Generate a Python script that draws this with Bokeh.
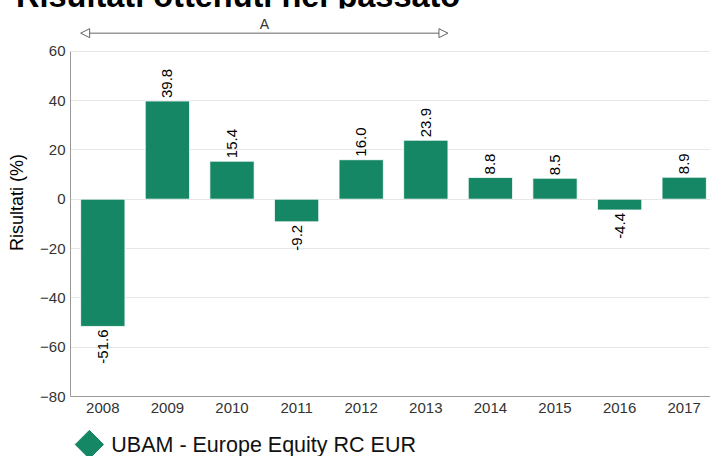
from bokeh.plotting import figure
from bokeh.models import (Range1d, FixedTicker, ColumnDataSource, Arrow, NormalHead, Div)
from bokeh.layouts import column
from bokeh.core.properties import value
from bokeh.embed import file_html
from bokeh.resources import INLINE
import math

# ---- data ----
years = ["2008", "2009", "2010", "2011", "2012", "2013", "2014", "2015", "2016", "2017"]
returns = [-51.6, 39.8, 15.4, -9.2, 16.0, 23.9, 8.8, 8.5, -4.4, 8.9]
y_ticks = [-80, -60, -40, -20, 0, 20, 40, 60]
series_name = "UBAM - Europe Equity RC EUR"
title_text = "Risultati ottenuti nel passato"
y_label = "Risultati (%)"
period_label = "A"
period_start = "2008"
period_end = "2013"

FONT = "Liberation Sans"
GREEN = "#168764"
BAR_W = 0.686

idx = list(range(len(years)))
pos_x = [i for i, v in zip(idx, returns) if v >= 0]
pos_v = [v for v in returns if v >= 0]
neg_x = [i for i, v in zip(idx, returns) if v < 0]
neg_v = [v for v in returns if v < 0]

src = ColumnDataSource(dict(x=idx, v=returns))
pos_src = ColumnDataSource(dict(x=pos_x, v=pos_v, t=["%.1f" % v for v in pos_v]))
neg_src = ColumnDataSource(dict(x=neg_x, v=neg_v, t=["%.1f" % v for v in neg_v]))

p = figure(frame_width=640, frame_height=388,
           x_range=Range1d(-0.5, 9.407), y_range=Range1d(-80, 77.3),
           output_backend="svg", toolbar_location=None,
           min_border_left=55, min_border_right=0, min_border_top=0, min_border_bottom=28,
           margin=(0, 0, 0, 4))
p.outline_line_color = None
p.background_fill_color = "white"

p.vbar(x="x", top="v", bottom=0, width=BAR_W, source=src,
       fill_color=GREEN, line_color="white", line_width=1, line_alpha=0.8)

p.text(x="x", y="v", text="t", source=pos_src, angle=math.pi / 2,
       text_align="left", text_baseline="middle", y_offset=-3,
       text_font=value(FONT), text_font_size="15px", text_color="#000000")
p.text(x="x", y="v", text="t", source=neg_src, angle=math.pi / 2,
       text_align="right", text_baseline="middle", y_offset=3,
       text_font=value(FONT), text_font_size="15px", text_color="#000000")

# period annotation
i0 = years.index(period_start)
i1 = years.index(period_end)
ARROW_Y = 67.3
head_kw = dict(size=9, fill_color="white", line_color="#666666", line_width=1)
p.add_layout(Arrow(start=NormalHead(**head_kw), end=NormalHead(**head_kw),
                   x_start=i0 - BAR_W / 2, x_end=i1 + BAR_W / 2,
                   y_start=ARROW_Y, y_end=ARROW_Y,
                   line_color="#666666", line_width=1))
p.text(x=[(i0 + i1) / 2], y=[71.2], text=[period_label],
       text_align="center", text_baseline="middle",
       text_font=value(FONT), text_font_size="14px", text_color="#333333")

# axes
p.xaxis.ticker = FixedTicker(ticks=idx)
p.xaxis.major_label_overrides = {i: y for i, y in zip(idx, years)}
p.xaxis.major_tick_out = 0
p.xaxis.major_tick_in = 0
p.xaxis.minor_tick_out = 0
p.xaxis.minor_tick_in = 0
p.xaxis.major_label_standoff = 6
p.xaxis.axis_line_color = "#999999"

p.yaxis.ticker = FixedTicker(ticks=y_ticks)
p.yaxis.bounds = (y_ticks[0], y_ticks[-1])
p.yaxis.major_tick_out = 0
p.yaxis.major_tick_in = 0
p.yaxis.minor_tick_out = 0
p.yaxis.minor_tick_in = 0
p.yaxis.major_label_standoff = 5
p.yaxis.axis_line_color = "#999999"
p.yaxis.axis_label = y_label
p.yaxis.axis_label_text_font = FONT
p.yaxis.axis_label_text_font_size = "18px"
p.yaxis.axis_label_text_font_style = "normal"
p.yaxis.axis_label_text_color = "#000000"
p.yaxis.axis_label_standoff = 10

for ax in (p.xaxis, p.yaxis):
    ax.major_label_text_font = FONT
    ax.major_label_text_font_size = "15px"
    ax.major_label_text_color = "#333333"

p.xgrid.visible = False
p.ygrid.grid_line_color = "#e6e6e6"
p.ygrid.bounds = (y_ticks[0], y_ticks[-1])

# legend strip (its frame is aligned with the main plot's frame by the column layout)
lg = figure(width=703, height=32, x_range=Range1d(0, 640), y_range=Range1d(0, 32),
            output_backend="svg", toolbar_location=None, min_border=0,
            x_axis_type=None, y_axis_type=None)
lg.outline_line_color = None
lg.grid.visible = False
lg.scatter(x=[23], y=[12], marker="square", angle=math.pi / 4, size=20,
           fill_color=GREEN, line_color=GREEN)
lg.text(x=[45], y=[12], text=[series_name], text_align="left", text_baseline="middle",
        text_font=value(FONT), text_font_size="21.5px", text_color="#111111")

title = Div(text=title_text, width=640, height=32, margin=(-20, 0, -4, 16),
            styles={"font-family": FONT, "font-size": "32.5px", "font-weight": "bold",
                    "line-height": "32px", "color": "#000000", "white-space": "nowrap"})

layout = column(title, p, lg, spacing=0)
open("out.html", "w").write(file_html(layout, INLINE))
